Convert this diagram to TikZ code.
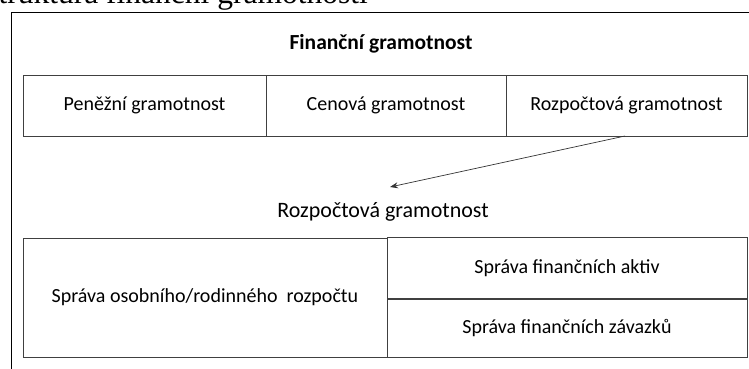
\documentclass[tikz,border=0pt]{standalone}
\usepackage{fontspec}
\usetikzlibrary{arrows.meta}
\setmainfont{Carlito}
\newfontfamily\titleserif{Liberation Serif}
\begin{document}
\begin{tikzpicture}[x=1pt,y=-1pt,
  cell/.style={draw=black!75,line width=0.9pt,minimum height=61pt,inner sep=0pt,font=\fontsize{20}{24}\selectfont},
  lbl/.style={inner sep=0pt,font=\fontsize{20}{24}\selectfont}]
\useasboundingbox (0,0) rectangle (749,368);
\clip (0,0) rectangle (749,368);
% clipped page title
\node[anchor=base east,inner sep=0pt,font=\titleserif\fontsize{31.5}{36}\selectfont] (pagetitle) at (368,3) {Struktura finanční gramotnosti};
% outer frame
\draw[line width=1pt,black] (11,380) -- (11,12) -- (760,12);
% heading
\node[lbl,font=\bfseries\fontsize{21.5}{26}\selectfont] (fg) at (381,44) {Finanční gramotnost};
% top row
\node[cell,minimum width=243pt] (pen) at (144.5,105.5) {Peněžní gramotnost};
\node[cell,minimum width=240pt] (cen) at (386,105.5) {Cenová gramotnost};
\node[cell,minimum width=241pt] (roz) at (626.5,105.5) {Rozpočtová gramotnost};
% label
\node[lbl,font=\fontsize{22}{26}\selectfont] (rozl) at (383,212) {Rozpočtová gramotnost};
\coordinate (arrend) at (390,187);
\draw[black!80,line width=0.7pt,-{Stealth[length=8pt,width=6pt]}] (625,136) -- (arrend);
% bottom table
\node[cell,minimum width=364pt,minimum height=119pt] (spr) at (205,297.5) {Správa osobního/rodinného\ \ rozpočtu};
\node[cell,minimum width=360pt,minimum height=61pt] (akt) at (567,268) {Správa finančních aktiv};
\node[cell,minimum width=360pt,minimum height=58pt] (zav) at (567,328) {Správa finančních závazků};
\end{tikzpicture}
\end{document}
